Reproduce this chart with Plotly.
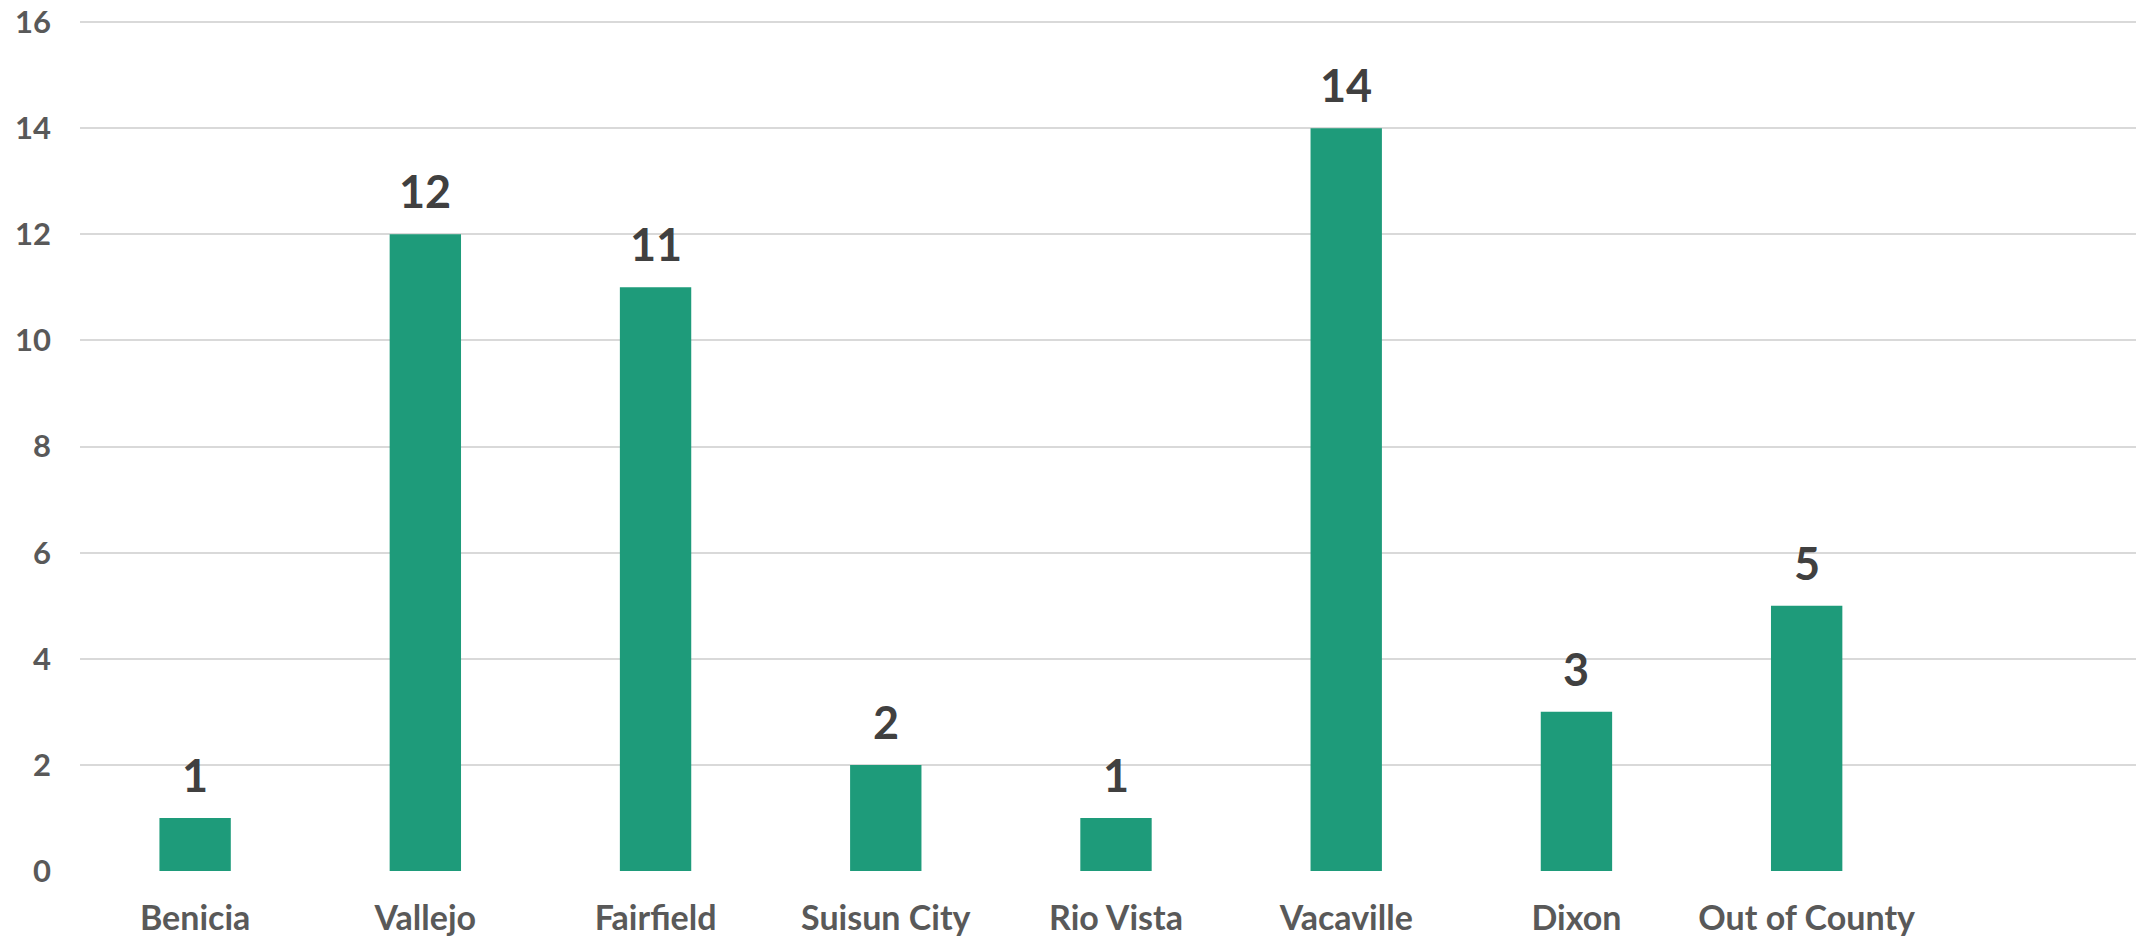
import plotly.graph_objects as go

cities = ["Benicia", "Vallejo", "Fairfield", "Suisun City", "Rio Vista",
          "Vacaville", "Dixon", "Out of County"]
counts = [1, 12, 11, 2, 1, 14, 3, 5]
y_ticks = [0, 2, 4, 6, 8, 10, 12, 14, 16]

bar_color = "#1e9b7a"
font_name = "Lato"

fig = go.Figure()
fig.add_trace(go.Bar(x=cities, y=counts, marker=dict(color=bar_color, line=dict(width=0)),
                     hoverinfo="x+y"))

# value labels above each bar
for c, v in zip(cities, counts):
    fig.add_annotation(x=c, y=v, text="<b>%d</b>" % v, showarrow=False,
                       yanchor="bottom", yshift=14,
                       font=dict(family=font_name, size=45, color="#404040"))

fig.update_layout(
    width=2144, height=938,
    margin=dict(l=72, r=0, t=13, b=75),
    paper_bgcolor="white", plot_bgcolor="white",
    bargap=0.69, showlegend=False,
    font=dict(family=font_name, color="#595959"),
    xaxis=dict(type="category", range=[-0.5, 8.5], showgrid=False, zeroline=False,
               showline=False, ticks="", ticklabelstandoff=24, automargin=False,
               tickfont=dict(family=font_name, size=34, color="#595959"),
               tickvals=cities, ticktext=["<b>%s</b>" % c for c in cities]),
    yaxis=dict(range=[0, 16.02], tickvals=y_ticks, ticktext=["<b>%d</b>" % t for t in y_ticks],
               showgrid=True, gridcolor="#d9d9d9", gridwidth=2, zeroline=False,
               showline=False, ticks="", ticklabelstandoff=28, ticklabeloverflow="allow",
               automargin=False,
               tickfont=dict(family=font_name, size=31, color="#595959")),
)

fig.write_html("out.html")
